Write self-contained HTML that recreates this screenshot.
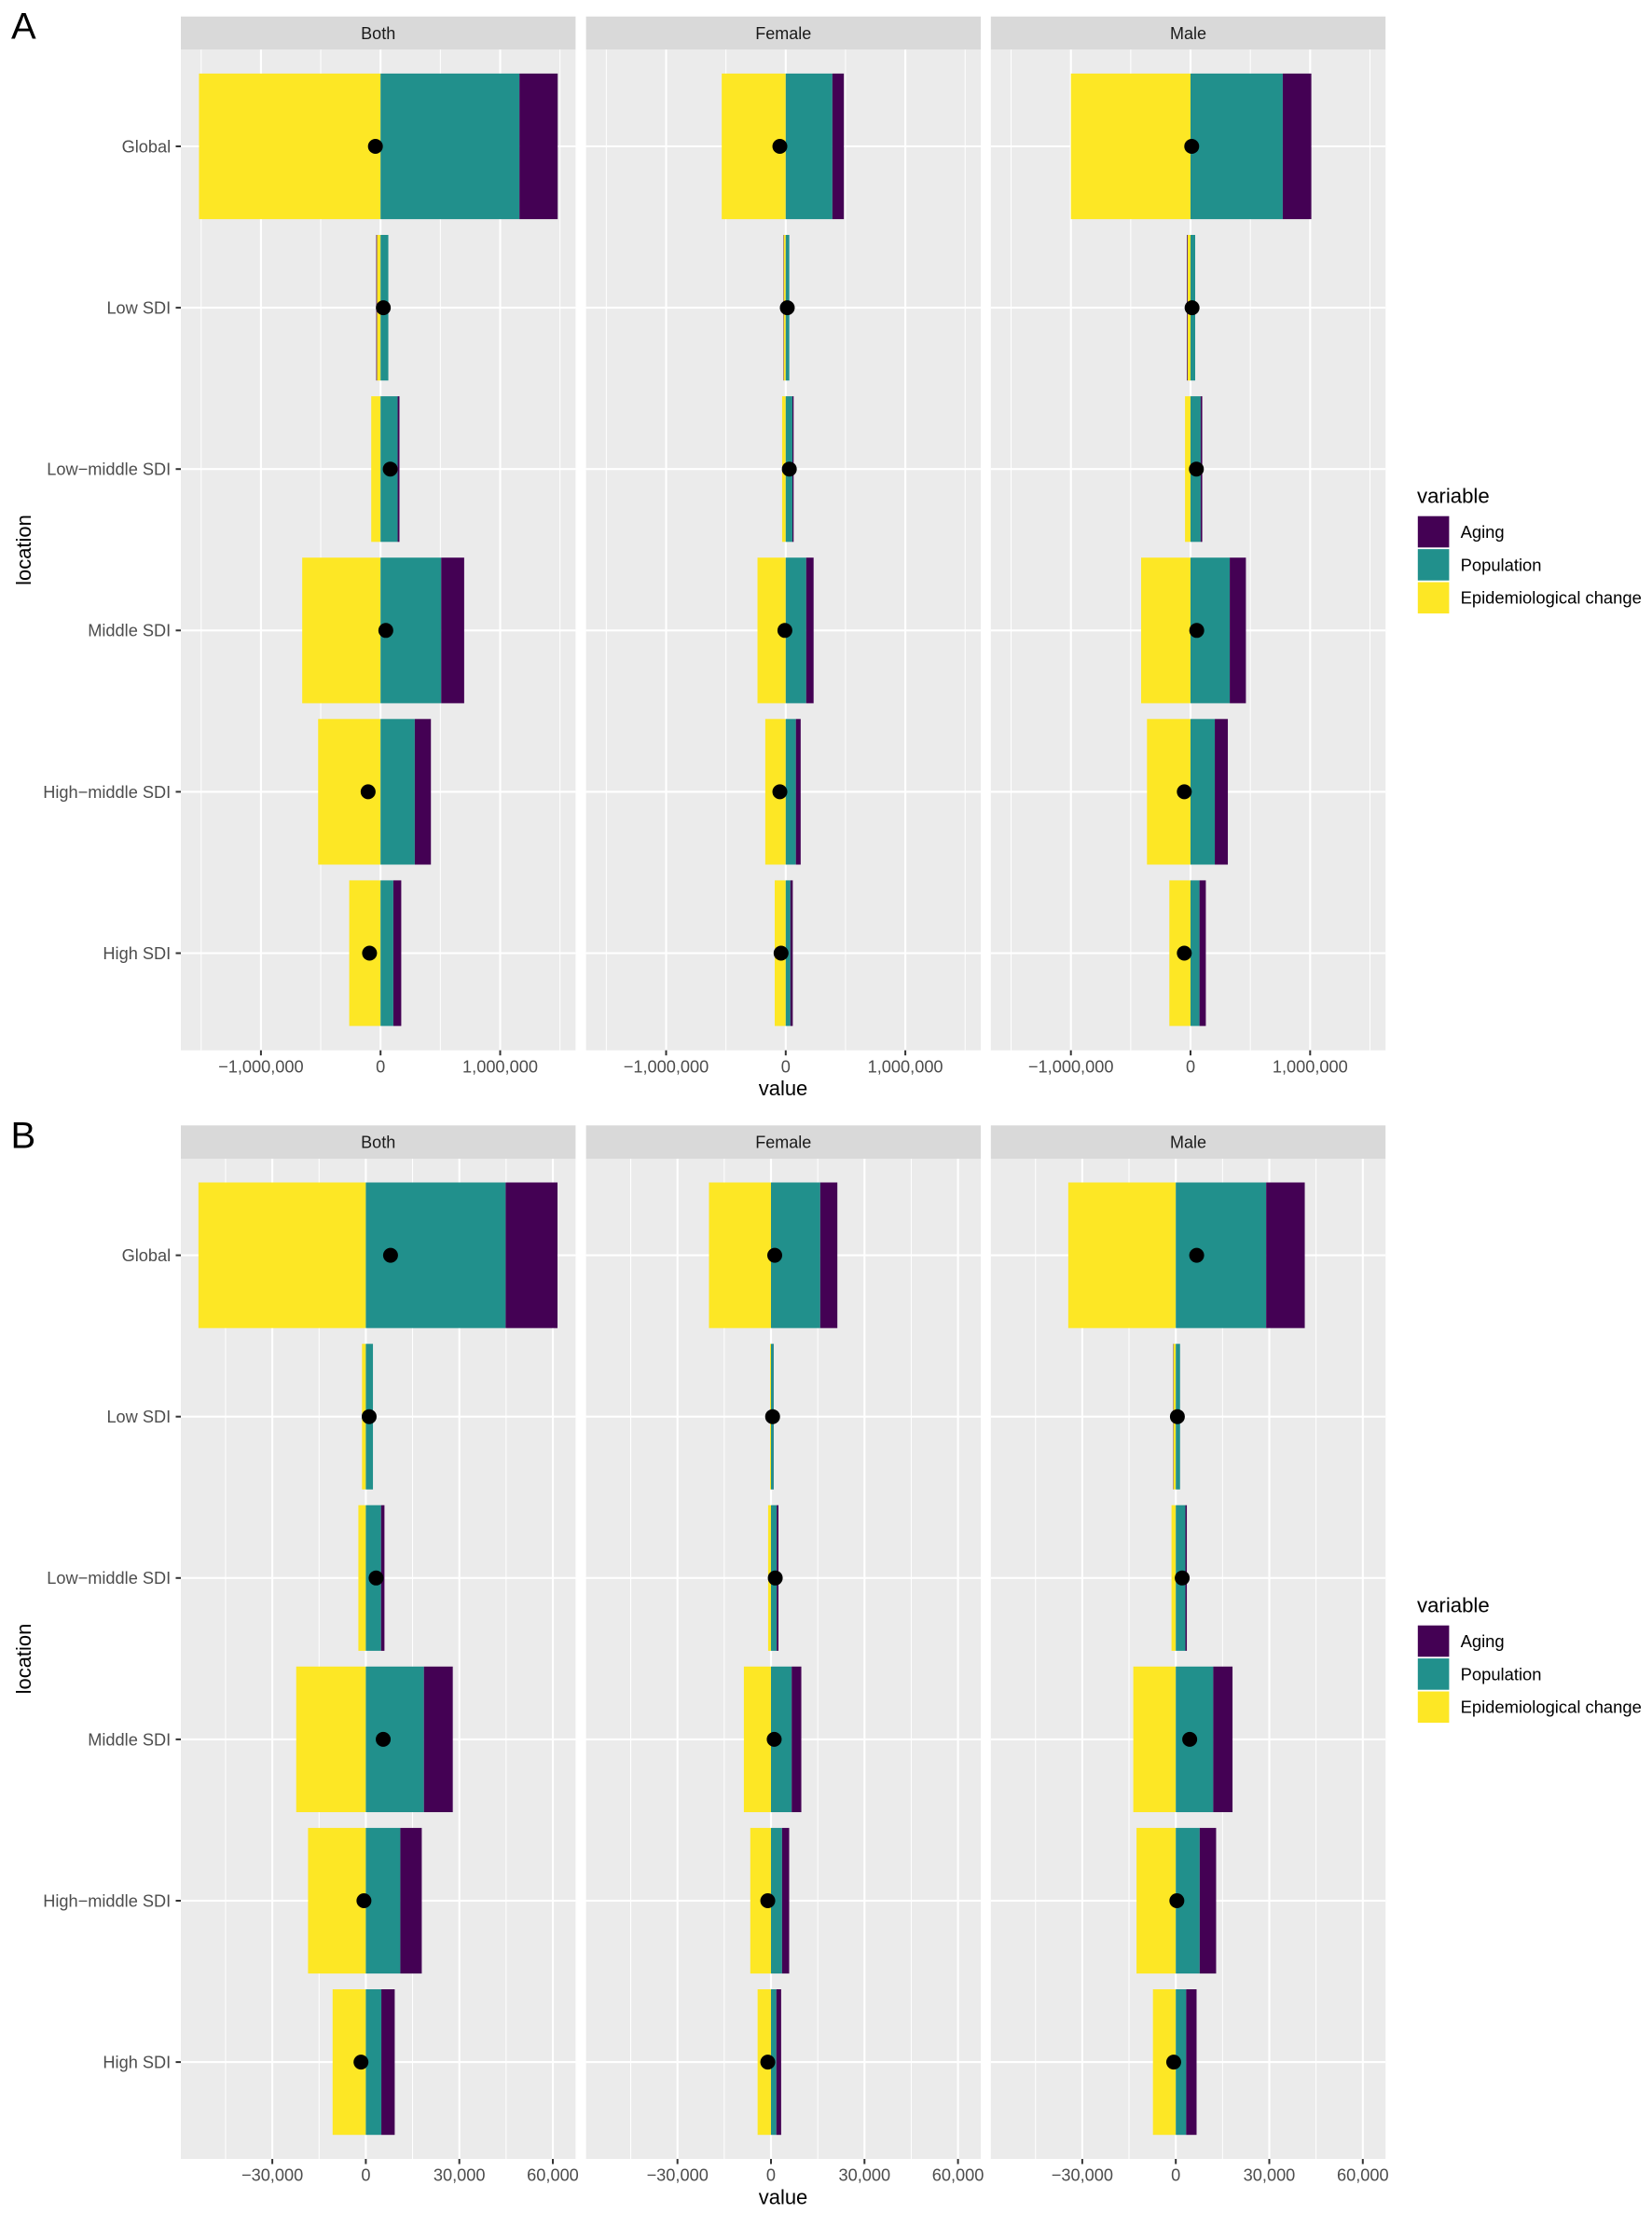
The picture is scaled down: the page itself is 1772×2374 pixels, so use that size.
<!DOCTYPE html>
<html lang="en">
<head>
<meta charset="utf-8">
<title>Decomposition of change by SDI location</title>
<style>
html,body{margin:0;padding:0;background:#fff;}
svg{display:block;font-family:"Liberation Sans",Arial,sans-serif;}
</style>
</head>
<body>
<svg id="figure" xmlns="http://www.w3.org/2000/svg" width="1772" height="2374" viewBox="0 0 1772 2374"></svg>
<script>
const locations = ["Global", "Low SDI", "Low\u2212middle SDI", "Middle SDI", "High\u2212middle SDI", "High SDI"];
const sexes = ["Both", "Female", "Male"];
const legendLabels = ["Aging", "Population", "Epidemiological change"];

const epiA_Both = [-1518000, -30000, -78000, -655000, -522000, -262000];
const popA_Both = [1161000, 65000, 143000, 507000, 286000, 107000];
const agingA_Both = [320000, -6000, 15000, 192000, 135000, 66000];
const netA_Both = [-43000, 23000, 81000, 44000, -104000, -92000];

const epiA_Female = [-535000, -17000, -30000, -236000, -171000, -92000];
const popA_Female = [390000, 30000, 56000, 171000, 85000, 39000];
const agingA_Female = [96000, -3000, 10000, 62000, 40000, 20000];
const netA_Female = [-49000, 13000, 30000, -7000, -49000, -39000];

const epiA_Male = [-1000000, -24000, -46000, -413000, -364000, -177000];
const popA_Male = [771000, 39000, 85000, 328000, 203000, 75000];
const agingA_Male = [239000, -6000, 13000, 135000, 109000, 53000];
const netA_Male = [10000, 13000, 49000, 52000, -52000, -52000];

const epiB_Both = [-53700, -1220, -2390, -22330, -18540, -10650];
const popB_Both = [44860, 2290, 4885, 18640, 11070, 4980];
const agingB_Both = [16640, 0, 1095, 9260, 6880, 4290];
const netB_Both = [7930, 1070, 3290, 5580, -600, -1550];

const epiB_Female = [-19900, -300, -916, -8700, -6640, -4290];
const popB_Female = [15800, 860, 1830, 6640, 3550, 1717];
const agingB_Female = [5490, 30, 570, 3090, 2290, 1543];
const netB_Female = [1200, 515, 1370, 1030, -1030, -1030];

const epiB_Male = [-34500, -760, -1374, -13630, -12600, -7330];
const popB_Male = [29000, 1370, 3090, 12020, 7670, 3330];
const agingB_Male = [12380, -100, 460, 6180, 5270, 3340];
const netB_Male = [6700, 515, 2060, 4465, 340, -670];

const majorTicksA = [-1000000, 0, 1000000];
const minorTicksA = [-1500000, -500000, 500000, 1500000];
const majorTicksB = [-30000, 0, 30000, 60000];
const minorTicksB = [-45000, -15000, 15000, 45000];

const domainA = [-1669500, 1630500];
const domainB = [-59340, 67300];

const COLORS = {aging: "#440154", pop: "#21908C", epi: "#FDE725"};
const legendColors = [COLORS.aging, COLORS.pop, COLORS.epi];
const PANEL_LEFT = [194, 628.6, 1062.8];
const PANEL_W = 423.4;
const STEP = 173.1;
const BAR_HALF = 78.1;
const svgEl = document.getElementById("figure");
const NS = "http://www.w3.org/2000/svg";

function make(tag, attrs, parent, text) {
  const e = document.createElementNS(NS, tag);
  for (const k in attrs) e.setAttribute(k, attrs[k]);
  if (text !== undefined) e.textContent = text;
  parent.appendChild(e);
  return e;
}

function fmt(v) {
  const s = Math.abs(v).toString().replace(/\B(?=(\d{3})+(?!\d))/g, ",");
  return (v < 0 ? "\u2212" : "") + s;
}

function drawFigure(cfg) {
  const fig = make("g", {}, svgEl);
  
  

  const letter = make("text", {x: cfg.letterX, y: cfg.letterY, "font-size": 40, fill: "#000"}, fig, cfg.letter);
  
  

  const yOf = i => cfg.row0 + i * STEP;

  sexes.forEach((sex, p) => {
    const left = PANEL_LEFT[p];
    const xOf = v => left + (v - cfg.domain[0]) / (cfg.domain[1] - cfg.domain[0]) * PANEL_W;

    const facet = make("g", {}, fig);
    
    

    const strip = make("rect", {x: left, y: cfg.stripTop, width: PANEL_W, height: cfg.panelTop - cfg.stripTop, fill: "#D9D9D9"}, facet);
    
    

    const stripText = make("text", {x: left + PANEL_W / 2, y: cfg.stripTop + 24.2, "font-size": 18, fill: "#1A1A1A", "text-anchor": "middle"}, facet, sex);
    
    

    const bg = make("rect", {x: left, y: cfg.panelTop, width: PANEL_W, height: cfg.panelBottom - cfg.panelTop, fill: "#EBEBEB"}, facet);
    
    

    cfg.minor.forEach(v => {
      const g = make("line", {x1: xOf(v), x2: xOf(v), y1: cfg.panelTop, y2: cfg.panelBottom, stroke: "#fff", "stroke-width": 1.05}, facet);
      
      
    });
    cfg.major.forEach(v => {
      const g = make("line", {x1: xOf(v), x2: xOf(v), y1: cfg.panelTop, y2: cfg.panelBottom, stroke: "#fff", "stroke-width": 2.1}, facet);
      
      
    });
    locations.forEach((loc, i) => {
      const g = make("line", {x1: left, x2: left + PANEL_W, y1: yOf(i), y2: yOf(i), stroke: "#fff", "stroke-width": 2.1}, facet);
      
      
    });

    const series = cfg.series[p];
    locations.forEach((loc, i) => {
      let pos = 0, neg = 0;
      [["epi", series.epi[i]], ["pop", series.pop[i]], ["aging", series.aging[i]]].forEach(([key, val]) => {
        if (!val) return;
        let a, b;
        if (val >= 0) { a = pos; b = pos + val; pos = b; }
        else { a = neg + val; b = neg; neg = a; }
        const bar = make("rect", {x: xOf(a), y: yOf(i) - BAR_HALF, width: xOf(b) - xOf(a), height: BAR_HALF * 2, fill: COLORS[key]}, facet);
        
        
      });
    });
    locations.forEach((loc, i) => {
      const dot = make("circle", {cx: xOf(series.net[i]), cy: yOf(i), r: 8, fill: "#000"}, facet);
      
      
    });

    cfg.major.forEach(v => {
      const t = make("line", {x1: xOf(v), x2: xOf(v), y1: cfg.panelBottom, y2: cfg.panelBottom + 5.5, stroke: "#333", "stroke-width": 2}, facet);
      
      
      const lab = make("text", {x: xOf(v), y: cfg.panelBottom + 23.6, "font-size": 18.2, fill: "#4D4D4D", "text-anchor": "middle"}, facet, fmt(v));
      
      
    });
  });

  locations.forEach((loc, i) => {
    const t = make("line", {x1: 188.5, x2: 194, y1: yOf(i), y2: yOf(i), stroke: "#333", "stroke-width": 2}, fig);
    
    
    const lab = make("text", {x: 183.2, y: yOf(i) + 6.4, "font-size": 18.2, fill: "#4D4D4D", "text-anchor": "end"}, fig, loc);
    
    
  });

  const xTitle = make("text", {x: 840, y: cfg.panelBottom + 48.5, "font-size": 22, fill: "#000", "text-anchor": "middle"}, fig, "value");
  
  

  const midY = (cfg.panelTop + cfg.panelBottom) / 2;
  const yTitle = make("text", {x: 33, y: midY, "font-size": 22, fill: "#000", "text-anchor": "middle", transform: "rotate(-90 33 " + midY + ")"}, fig, "location");
  
  

  const legend = make("g", {}, fig);
  
  
  const ly = cfg.legendTop;
  const legendTitle = make("text", {x: 1520, y: ly, "font-size": 22.2, fill: "#000"}, legend, "variable");
  
  
  legendLabels.forEach((label, i) => {
    const key = make("rect", {x: 1520.8, y: ly + 14.4 + i * 35.4, width: 33.6, height: 33.6, fill: legendColors[i]}, legend);
    
    
    const txt = make("text", {x: 1566.6, y: ly + 37.6 + i * 35.4, "font-size": 18.4, fill: "#000"}, legend, label);
    
    
  });
}

drawFigure({
  letter: "A", letterX: 12, letterY: 41.7,
  stripTop: 17.7, panelTop: 53.3, panelBottom: 1126.7, row0: 157,
  domain: domainA, major: majorTicksA, minor: minorTicksA,
  legendTop: 539.3,
  series: [
    {epi: epiA_Both, pop: popA_Both, aging: agingA_Both, net: netA_Both},
    {epi: epiA_Female, pop: popA_Female, aging: agingA_Female, net: netA_Female},
    {epi: epiA_Male, pop: popA_Male, aging: agingA_Male, net: netA_Male}
  ]
});
drawFigure({
  letter: "B", letterX: 11.5, letterY: 1231.7,
  stripTop: 1207.3, panelTop: 1243, panelBottom: 2316, row0: 1346.6,
  domain: domainB, major: majorTicksB, minor: minorTicksB,
  legendTop: 1729.3,
  series: [
    {epi: epiB_Both, pop: popB_Both, aging: agingB_Both, net: netB_Both},
    {epi: epiB_Female, pop: popB_Female, aging: agingB_Female, net: netB_Female},
    {epi: epiB_Male, pop: popB_Male, aging: agingB_Male, net: netB_Male}
  ]
});
</script>
</body>
</html>
